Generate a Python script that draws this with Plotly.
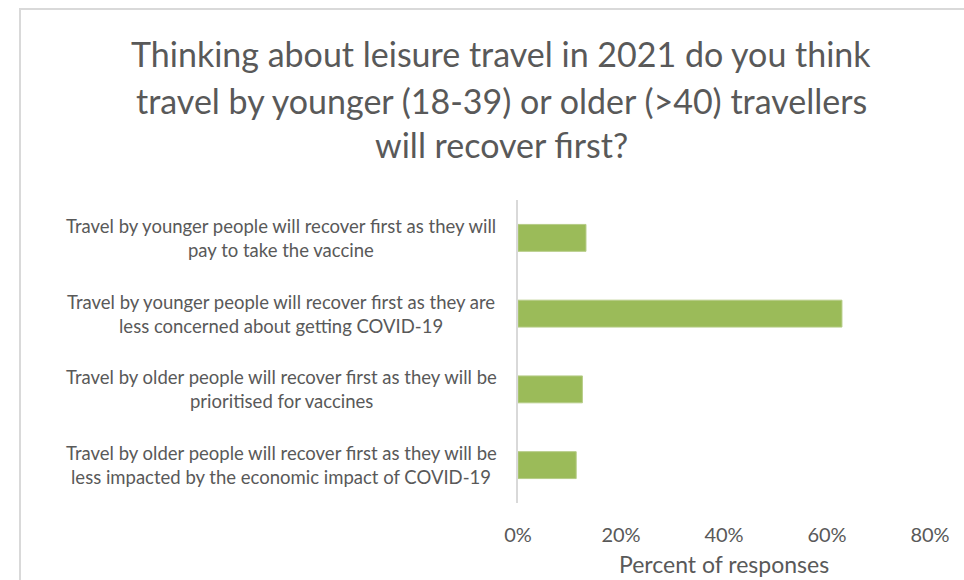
import plotly.graph_objects as go

# ---- data ----
categories = [
    "Travel by younger people will recover first as they will<br>pay to take the vaccine",
    "Travel by younger people will recover first as they are<br>less concerned about getting COVID-19",
    "Travel by older people will recover first as they will be<br>prioritised for vaccines",
    "Travel by older people will recover first as they will be<br>less impacted by the economic impact of COVID-19",
]
values = [13.2, 62.9, 12.5, 11.3]
title_lines = [
    "Thinking about leisure travel in 2021 do you think",
    "travel by younger (18-39) or older (>40) travellers",
    "will recover first?",
]
tick_vals = [0, 20, 40, 60, 80]
tick_text = ["0%", "20%", "40%", "60%", "80%"]
x_title = "Percent of responses"

# ---- layout geometry (pixels) ----
W, H = 964, 580
PL, PR = 518, 930      # plot area x
PT, PB = 200, 503      # plot area y
GRAY = "#595959"
FONT = "Lato"


def px_to_paper_x(px):
    return (px - PL) / (PR - PL)


def px_to_paper_y(py):
    return (PB - py) / (PB - PT)


fig = go.Figure(
    go.Bar(
        x=values,
        y=categories,
        orientation="h",
        width=0.355,
        marker=dict(color="#9BBB59", line=dict(color="#B5CC86", width=1)),
        hoverinfo="x+y",
    )
)

annotations = []
# title lines
for i, line in enumerate(title_lines):
    annotations.append(dict(
        text=line, xref="paper", yref="paper",
        x=px_to_paper_x(501), y=px_to_paper_y([54, 100, 145][i]),
        xanchor="center", yanchor="middle", showarrow=False,
        font=dict(family=FONT, size=34, color=GRAY),
    ))
# category labels (centered, two lines each)
for cat in categories:
    parts = cat.split("<br>")
    n = len(parts)
    for j, part in enumerate(parts):
        annotations.append(dict(
            text=part, xref="paper", yref="y",
            x=px_to_paper_x(281), y=cat,
            xanchor="center", yanchor="middle", showarrow=False,
            yshift=-(j - (n - 1) / 2) * 24,
            font=dict(family=FONT, size=18.5, color=GRAY),
        ))
# x axis title
annotations.append(dict(
    text=x_title, xref="paper", yref="paper",
    x=0.5, y=px_to_paper_y(564),
    xanchor="center", yanchor="middle", showarrow=False,
    font=dict(family=FONT, size=23, color=GRAY),
))

fig.update_layout(
    width=W, height=H,
    margin=dict(l=PL, r=W - PR, t=PT, b=H - PB, pad=0, autoexpand=False),
    paper_bgcolor="white", plot_bgcolor="white",
    showlegend=False,
    bargap=0.5,
    annotations=annotations,
    font=dict(family=FONT, color=GRAY),
    shapes=[dict(
        type="rect", xref="paper", yref="paper",
        x0=px_to_paper_x(20), x1=px_to_paper_x(1000),
        y0=px_to_paper_y(620), y1=px_to_paper_y(9),
        line=dict(color="#D9D9D9", width=2), fillcolor="rgba(0,0,0,0)",
        layer="below",
    )],
    xaxis=dict(
        range=[0, 80], tickvals=tick_vals, ticktext=tick_text,
        showgrid=False, zeroline=False, showline=False,
        ticks="outside", ticklen=14, tickcolor="rgba(0,0,0,0)",
        tickfont=dict(family=FONT, size=20, color=GRAY),
        automargin=False,
        fixedrange=True,
    ),
    yaxis=dict(
        autorange="reversed", showticklabels=False, ticks="",
        showgrid=False, zeroline=False,
        showline=True, linecolor="#D9D9D9", linewidth=2,
        automargin=False,
        fixedrange=True,
    ),
)

fig.write_html("out.html")
